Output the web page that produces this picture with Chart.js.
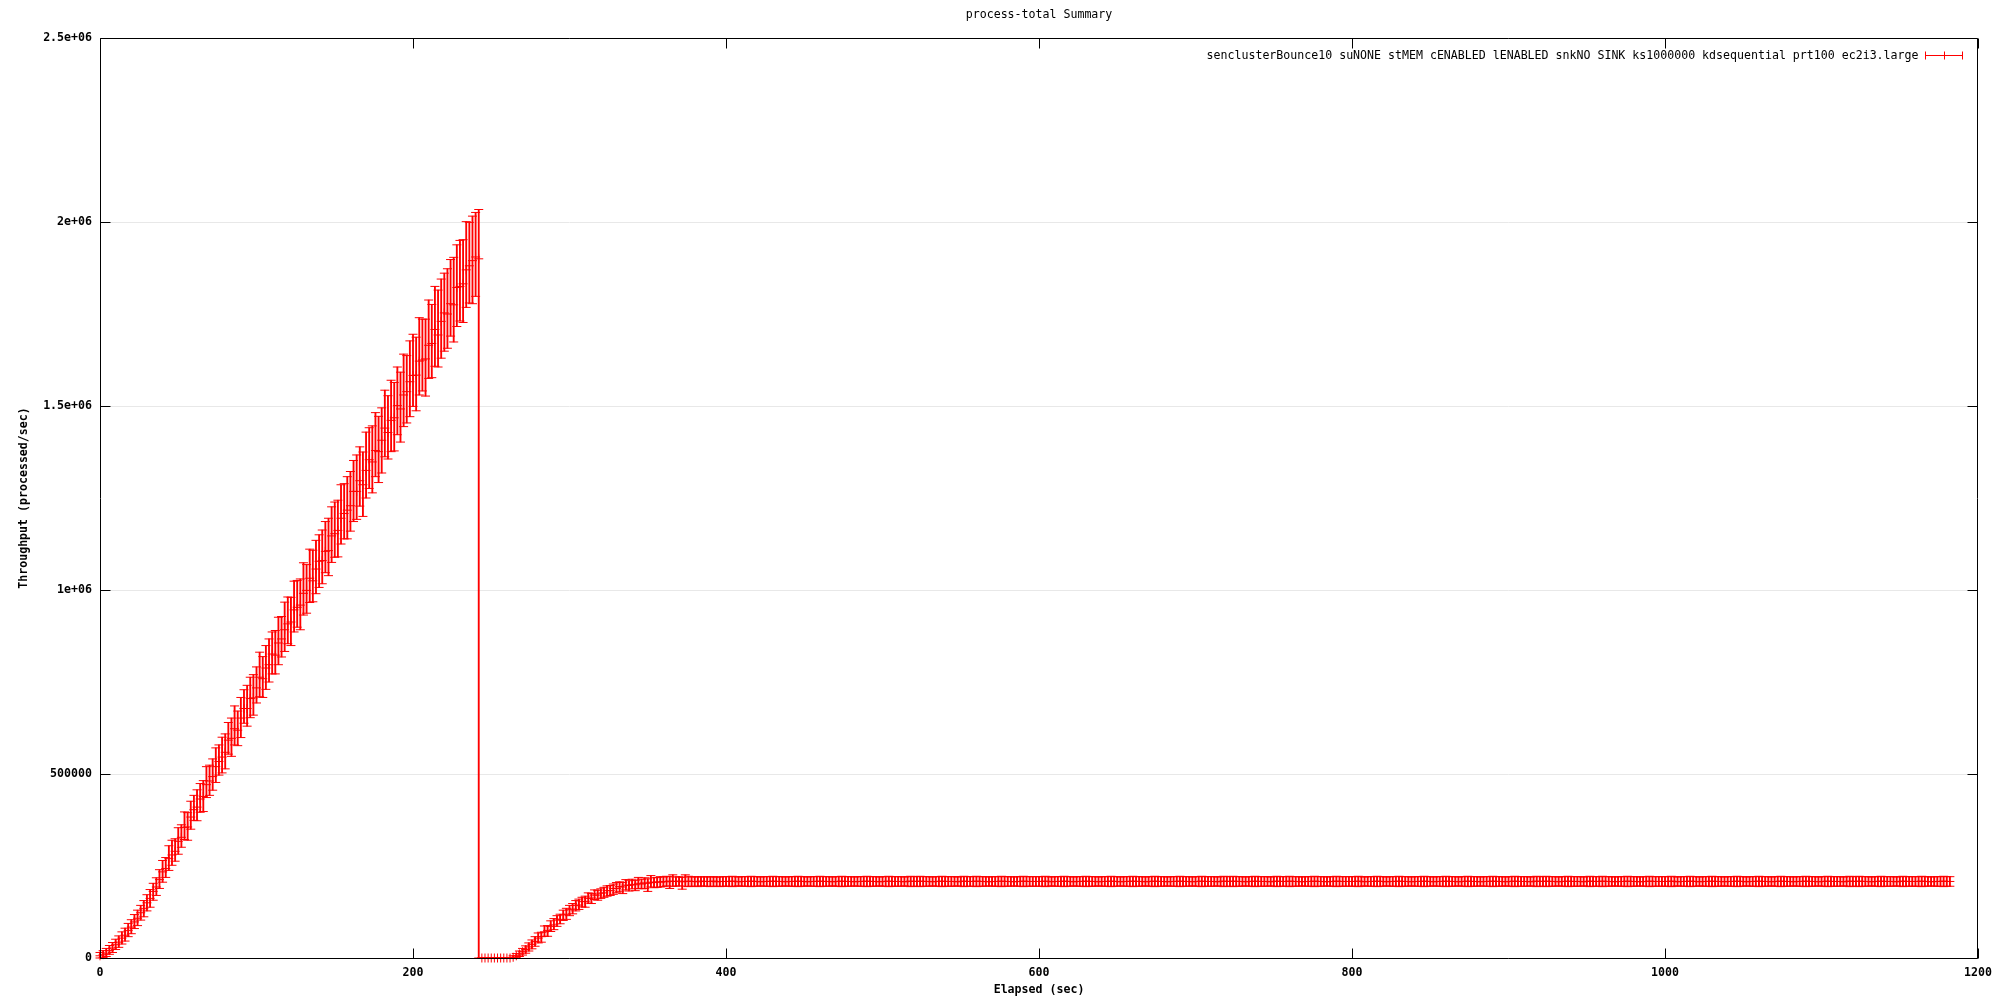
<!DOCTYPE html>
<html>
<head>
<meta charset="utf-8">
<script src="https://cdn.jsdelivr.net/npm/chart.js@4/dist/chart.umd.min.js"></script>
<style>
  html, body { margin: 0; background: #fff; }
  #wrap { width: 2000px; height: 1000px; }
</style>
</head>
<body>
<div id="wrap"><canvas id="chart" width="2000" height="1000"></canvas></div>
<script>
const chartTitle = 'process-total Summary';
const seriesName = 'senclusterBounce10 suNONE stMEM cENABLED lENABLED snkNO SINK ks1000000 kdsequential prt100 ec2i3.large';
const xTitle = 'Elapsed (sec)';
const yTitle = 'Throughput (processed/sec)';
const xTicks = [0, 200, 400, 600, 800, 1000, 1200];
const yTicks = [0, 500000, 1000000, 1500000, 2000000, 2500000];
const yTickLabels = ['0', '500000', '1e+06', '1.5e+06', '2e+06', '2.5e+06'];

// one sample every 2 sec, 20 samples per row
const elapsed = [
  0,2,4,6,8,10,12,14,16,18,20,22,24,26,28,30,32,34,36,38,
  40,42,44,46,48,50,52,54,56,58,60,62,64,66,68,70,72,74,76,78,
  80,82,84,86,88,90,92,94,96,98,100,102,104,106,108,110,112,114,116,118,
  120,122,124,126,128,130,132,134,136,138,140,142,144,146,148,150,152,154,156,158,
  160,162,164,166,168,170,172,174,176,178,180,182,184,186,188,190,192,194,196,198,
  200,202,204,206,208,210,212,214,216,218,220,222,224,226,228,230,232,234,236,238,
  240,242,244,246,248,250,252,254,256,258,260,262,264,266,268,270,272,274,276,278,
  280,282,284,286,288,290,292,294,296,298,300,302,304,306,308,310,312,314,316,318,
  320,322,324,326,328,330,332,334,336,338,340,342,344,346,348,350,352,354,356,358,
  360,362,364,366,368,370,372,374,376,378,380,382,384,386,388,390,392,394,396,398,
  400,402,404,406,408,410,412,414,416,418,420,422,424,426,428,430,432,434,436,438,
  440,442,444,446,448,450,452,454,456,458,460,462,464,466,468,470,472,474,476,478,
  480,482,484,486,488,490,492,494,496,498,500,502,504,506,508,510,512,514,516,518,
  520,522,524,526,528,530,532,534,536,538,540,542,544,546,548,550,552,554,556,558,
  560,562,564,566,568,570,572,574,576,578,580,582,584,586,588,590,592,594,596,598,
  600,602,604,606,608,610,612,614,616,618,620,622,624,626,628,630,632,634,636,638,
  640,642,644,646,648,650,652,654,656,658,660,662,664,666,668,670,672,674,676,678,
  680,682,684,686,688,690,692,694,696,698,700,702,704,706,708,710,712,714,716,718,
  720,722,724,726,728,730,732,734,736,738,740,742,744,746,748,750,752,754,756,758,
  760,762,764,766,768,770,772,774,776,778,780,782,784,786,788,790,792,794,796,798,
  800,802,804,806,808,810,812,814,816,818,820,822,824,826,828,830,832,834,836,838,
  840,842,844,846,848,850,852,854,856,858,860,862,864,866,868,870,872,874,876,878,
  880,882,884,886,888,890,892,894,896,898,900,902,904,906,908,910,912,914,916,918,
  920,922,924,926,928,930,932,934,936,938,940,942,944,946,948,950,952,954,956,958,
  960,962,964,966,968,970,972,974,976,978,980,982,984,986,988,990,992,994,996,998,
  1000,1002,1004,1006,1008,1010,1012,1014,1016,1018,1020,1022,1024,1026,1028,1030,1032,1034,1036,1038,
  1040,1042,1044,1046,1048,1050,1052,1054,1056,1058,1060,1062,1064,1066,1068,1070,1072,1074,1076,1078,
  1080,1082,1084,1086,1088,1090,1092,1094,1096,1098,1100,1102,1104,1106,1108,1110,1112,1114,1116,1118,
  1120,1122,1124,1126,1128,1130,1132,1134,1136,1138,1140,1142,1144,1146,1148,1150,1152,1154,1156,1158,
  1160,1162,1164,1166,1168,1170,1172,1174,1176,1178,1180,1182
];

const throughput = [
  6000,9000,13000,20000,27000,36000,43000,54000,62000,75000,84000,98000,108000,123000,134000,150000,162000,181000,193000,213000,
  234000,243000,270000,280000,290000,317000,328000,355000,356000,383000,403000,410000,432000,439000,471000,481000,493000,520000,534000,546000,
  559000,592000,597000,623000,619000,652000,678000,678000,705000,707000,734000,763000,759000,788000,797000,826000,823000,856000,867000,892000,
  908000,913000,946000,953000,959000,991000,999000,1032000,1025000,1057000,1078000,1080000,1105000,1107000,1147000,1153000,1162000,1195000,1208000,1217000,
  1229000,1268000,1268000,1297000,1286000,1325000,1354000,1348000,1379000,1376000,1407000,1440000,1428000,1461000,1468000,1501000,1492000,1530000,1539000,1566000,
  1583000,1584000,1622000,1625000,1628000,1665000,1670000,1708000,1693000,1730000,1753000,1750000,1778000,1775000,1822000,1825000,1832000,1870000,1881000,1895000,
  1905000,1900000,0,0,0,0,0,0,0,0,0,0,2000,6000,11000,17000,23000,30000,37000,45000,
  54000,58000,71000,75000,86000,90000,103000,105000,117000,119000,131000,133000,143000,144000,153000,154000,162000,163000,171000,171000,
  176000,177000,183000,183000,189000,189000,194000,193000,198000,197000,200000,199000,203000,201000,204000,203000,206000,205000,207000,206000,
  208000,207000,209000,208000,208000,209000,207000,208000,209000,208000,208000,207000,209000,208000,208000,208000,209000,207000,208000,208000,
  /* 400 */ 208000,208000,209000,208000,207000,208000,208000,208000,209000,208000,208000,207000,208000,208000,208000,209000,208000,208000,208000,207000,
  /* 440 */ 208000,208000,208000,209000,208000,208000,207000,208000,208000,208000,209000,208000,208000,208000,207000,208000,208000,209000,208000,208000,
  /* 480 */ 208000,207000,208000,208000,208000,209000,208000,208000,208000,207000,208000,208000,209000,208000,208000,208000,208000,207000,208000,209000,
  /* 520 */ 208000,208000,209000,208000,208000,208000,207000,208000,208000,209000,208000,208000,208000,208000,207000,208000,209000,208000,208000,208000,
  /* 560 */ 209000,208000,208000,208000,207000,208000,208000,208000,209000,208000,208000,208000,207000,208000,208000,209000,208000,208000,208000,208000,
  /* 600 */ 208000,208000,209000,208000,207000,208000,208000,208000,209000,208000,208000,207000,208000,208000,208000,209000,208000,208000,208000,207000,
  /* 640 */ 208000,208000,208000,209000,208000,208000,207000,208000,208000,208000,209000,208000,208000,208000,207000,208000,208000,209000,208000,208000,
  /* 680 */ 208000,207000,208000,208000,208000,209000,208000,208000,208000,207000,208000,208000,209000,208000,208000,208000,208000,207000,208000,209000,
  /* 720 */ 208000,208000,209000,208000,208000,208000,207000,208000,208000,209000,208000,208000,208000,208000,207000,208000,209000,208000,208000,208000,
  /* 760 */ 209000,208000,208000,208000,207000,208000,208000,208000,209000,208000,208000,208000,207000,208000,208000,209000,208000,208000,208000,208000,
  /* 800 */ 208000,208000,209000,208000,207000,208000,208000,208000,209000,208000,208000,207000,208000,208000,208000,209000,208000,208000,208000,207000,
  /* 840 */ 208000,208000,208000,209000,208000,208000,207000,208000,208000,208000,209000,208000,208000,208000,207000,208000,208000,209000,208000,208000,
  /* 880 */ 208000,207000,208000,208000,208000,209000,208000,208000,208000,207000,208000,208000,209000,208000,208000,208000,208000,207000,208000,209000,
  /* 920 */ 208000,208000,209000,208000,208000,208000,207000,208000,208000,209000,208000,208000,208000,208000,207000,208000,209000,208000,208000,208000,
  /* 960 */ 209000,208000,208000,208000,207000,208000,208000,208000,209000,208000,208000,208000,207000,208000,208000,209000,208000,208000,208000,208000,
  /* 1000 */ 208000,208000,209000,208000,207000,208000,208000,208000,209000,208000,208000,207000,208000,208000,208000,209000,208000,208000,208000,207000,
  /* 1040 */ 208000,208000,208000,209000,208000,208000,207000,208000,208000,208000,209000,208000,208000,208000,207000,208000,208000,209000,208000,208000,
  /* 1080 */ 208000,207000,208000,208000,208000,209000,208000,208000,208000,207000,208000,208000,209000,208000,208000,208000,208000,207000,208000,209000,
  /* 1120 */ 208000,208000,209000,208000,208000,208000,207000,208000,208000,209000,208000,208000,208000,208000,207000,208000,209000,208000,208000,208000,
  /* 1160 */ 208000,208000,209000,208000,208000,207000,208000,208000,208000,209000,208000,208000
];

const throughputLow = [
  0,1000,4000,10000,15000,23000,29000,38000,46000,58000,66000,80000,88000,103000,112000,128000,138000,157000,170000,189000,
  206000,219000,238000,252000,263000,282000,301000,322000,320000,350000,374000,373000,396000,398000,436000,442000,456000,477000,497000,503000,
  514000,554000,548000,579000,577000,599000,638000,630000,653000,660000,693000,710000,708000,730000,750000,772000,772000,797000,818000,833000,
  854000,849000,886000,899000,892000,932000,937000,966000,968000,990000,1007000,1017000,1047000,1039000,1075000,1089000,1090000,1125000,1139000,1139000,
  1160000,1186000,1192000,1228000,1200000,1250000,1276000,1264000,1308000,1292000,1318000,1362000,1356000,1376000,1378000,1422000,1402000,1444000,1454000,1471000,
  1499000,1487000,1530000,1541000,1527000,1575000,1577000,1608000,1606000,1630000,1649000,1657000,1690000,1674000,1716000,1731000,1727000,1768000,1780000,1778000,
  1798000,0,0,0,0,0,0,0,0,0,0,0,0,1000,4000,8000,13000,19000,25000,32000,
  41000,43000,59000,59000,72000,77000,86000,93000,102000,105000,115000,120000,128000,132000,139000,138000,149000,148000,159000,157000,
  162000,165000,168000,170000,173000,177000,180000,175000,185000,182000,188000,183000,189000,188000,189000,181000,193000,191000,192000,193000,
  194000,196000,189000,195000,195000,196000,187000,195000,194000,195000,195000,194000,196000,195000,195000,194000,195000,195000,194000,195000,
  /* 400 */ 195000,195000,194000,195000,196000,195000,195000,195000,194000,195000,195000,196000,195000,195000,195000,194000,195000,195000,195000,196000,
  /* 440 */ 195000,195000,195000,194000,195000,195000,196000,195000,195000,195000,194000,195000,195000,195000,196000,195000,195000,194000,195000,195000,
  /* 480 */ 195000,196000,195000,195000,195000,194000,195000,195000,195000,196000,195000,195000,194000,195000,195000,195000,195000,196000,195000,194000,
  /* 520 */ 195000,195000,194000,195000,195000,195000,196000,195000,195000,194000,195000,195000,195000,195000,196000,195000,194000,195000,195000,195000,
  /* 560 */ 194000,195000,195000,195000,196000,195000,195000,195000,194000,195000,195000,195000,196000,195000,195000,194000,195000,195000,195000,195000,
  /* 600 */ 195000,195000,194000,195000,196000,195000,195000,195000,194000,195000,195000,196000,195000,195000,195000,194000,195000,195000,195000,196000,
  /* 640 */ 195000,195000,195000,194000,195000,195000,196000,195000,195000,195000,194000,195000,195000,195000,196000,195000,195000,194000,195000,195000,
  /* 680 */ 195000,196000,195000,195000,195000,194000,195000,195000,195000,196000,195000,195000,194000,195000,195000,195000,195000,196000,195000,194000,
  /* 720 */ 195000,195000,194000,195000,195000,195000,196000,195000,195000,194000,195000,195000,195000,195000,196000,195000,194000,195000,195000,195000,
  /* 760 */ 194000,195000,195000,195000,196000,195000,195000,195000,194000,195000,195000,195000,196000,195000,195000,194000,195000,195000,195000,195000,
  /* 800 */ 195000,195000,194000,195000,196000,195000,195000,195000,194000,195000,195000,196000,195000,195000,195000,194000,195000,195000,195000,196000,
  /* 840 */ 195000,195000,195000,194000,195000,195000,196000,195000,195000,195000,194000,195000,195000,195000,196000,195000,195000,194000,195000,195000,
  /* 880 */ 195000,196000,195000,195000,195000,194000,195000,195000,195000,196000,195000,195000,194000,195000,195000,195000,195000,196000,195000,194000,
  /* 920 */ 195000,195000,194000,195000,195000,195000,196000,195000,195000,194000,195000,195000,195000,195000,196000,195000,194000,195000,195000,195000,
  /* 960 */ 194000,195000,195000,195000,196000,195000,195000,195000,194000,195000,195000,195000,196000,195000,195000,194000,195000,195000,195000,195000,
  /* 1000 */ 195000,195000,194000,195000,196000,195000,195000,195000,194000,195000,195000,196000,195000,195000,195000,194000,195000,195000,195000,196000,
  /* 1040 */ 195000,195000,195000,194000,195000,195000,196000,195000,195000,195000,194000,195000,195000,195000,196000,195000,195000,194000,195000,195000,
  /* 1080 */ 195000,196000,195000,195000,195000,194000,195000,195000,195000,196000,195000,195000,194000,195000,195000,195000,195000,196000,195000,194000,
  /* 1120 */ 195000,195000,194000,195000,195000,195000,196000,195000,195000,194000,195000,195000,195000,195000,196000,195000,194000,195000,195000,195000,
  /* 1160 */ 195000,195000,194000,195000,195000,196000,195000,195000,195000,194000,195000,195000
];

const throughputHigh = [
  15000,20000,26000,34000,42000,51000,60000,71000,81000,94000,104000,118000,130000,143000,156000,172000,186000,203000,218000,240000,
  265000,273000,305000,320000,324000,354000,362000,397000,395000,426000,442000,457000,474000,482000,520000,524000,541000,571000,579000,600000,
  609000,640000,652000,685000,671000,708000,729000,741000,763000,770000,791000,831000,819000,849000,867000,886000,890000,926000,928000,967000,
  981000,980000,1024000,1026000,1030000,1074000,1069000,1111000,1108000,1135000,1150000,1163000,1186000,1195000,1226000,1239000,1244000,1286000,1289000,1308000,
  1322000,1352000,1367000,1389000,1375000,1429000,1441000,1446000,1482000,1472000,1495000,1543000,1528000,1570000,1564000,1606000,1592000,1641000,1637000,1677000,
  1695000,1687000,1740000,1736000,1736000,1788000,1776000,1825000,1815000,1845000,1861000,1873000,1898000,1904000,1938000,1950000,1952000,2001000,1999000,2016000,
  2026000,2034000,0,0,0,0,0,0,0,0,0,0,6000,12000,19000,26000,33000,41000,49000,58000,
  68000,70000,87000,88000,101000,107000,115000,119000,130000,135000,143000,148000,156000,160000,165000,168000,177000,175000,185000,184000,
  188000,192000,196000,197000,201000,205000,207000,205000,213000,210000,214000,211000,219000,214000,218000,215000,224000,218000,219000,221000,
  220000,222000,221000,226000,220000,221000,219000,226000,222000,220000,221000,220000,221000,220000,221000,220000,221000,220000,220000,221000,
  /* 400 */ 221000,221000,222000,221000,220000,221000,221000,221000,222000,221000,221000,220000,221000,221000,221000,222000,221000,221000,221000,220000,
  /* 440 */ 221000,221000,221000,222000,221000,221000,220000,221000,221000,221000,222000,221000,221000,221000,220000,221000,221000,222000,221000,221000,
  /* 480 */ 221000,220000,221000,221000,221000,222000,221000,221000,221000,220000,221000,221000,222000,221000,221000,221000,221000,220000,221000,222000,
  /* 520 */ 221000,221000,222000,221000,221000,221000,220000,221000,221000,222000,221000,221000,221000,221000,220000,221000,222000,221000,221000,221000,
  /* 560 */ 222000,221000,221000,221000,220000,221000,221000,221000,222000,221000,221000,221000,220000,221000,221000,222000,221000,221000,221000,221000,
  /* 600 */ 221000,221000,222000,221000,220000,221000,221000,221000,222000,221000,221000,220000,221000,221000,221000,222000,221000,221000,221000,220000,
  /* 640 */ 221000,221000,221000,222000,221000,221000,220000,221000,221000,221000,222000,221000,221000,221000,220000,221000,221000,222000,221000,221000,
  /* 680 */ 221000,220000,221000,221000,221000,222000,221000,221000,221000,220000,221000,221000,222000,221000,221000,221000,221000,220000,221000,222000,
  /* 720 */ 221000,221000,222000,221000,221000,221000,220000,221000,221000,222000,221000,221000,221000,221000,220000,221000,222000,221000,221000,221000,
  /* 760 */ 222000,221000,221000,221000,220000,221000,221000,221000,222000,221000,221000,221000,220000,221000,221000,222000,221000,221000,221000,221000,
  /* 800 */ 221000,221000,222000,221000,220000,221000,221000,221000,222000,221000,221000,220000,221000,221000,221000,222000,221000,221000,221000,220000,
  /* 840 */ 221000,221000,221000,222000,221000,221000,220000,221000,221000,221000,222000,221000,221000,221000,220000,221000,221000,222000,221000,221000,
  /* 880 */ 221000,220000,221000,221000,221000,222000,221000,221000,221000,220000,221000,221000,222000,221000,221000,221000,221000,220000,221000,222000,
  /* 920 */ 221000,221000,222000,221000,221000,221000,220000,221000,221000,222000,221000,221000,221000,221000,220000,221000,222000,221000,221000,221000,
  /* 960 */ 222000,221000,221000,221000,220000,221000,221000,221000,222000,221000,221000,221000,220000,221000,221000,222000,221000,221000,221000,221000,
  /* 1000 */ 221000,221000,222000,221000,220000,221000,221000,221000,222000,221000,221000,220000,221000,221000,221000,222000,221000,221000,221000,220000,
  /* 1040 */ 221000,221000,221000,222000,221000,221000,220000,221000,221000,221000,222000,221000,221000,221000,220000,221000,221000,222000,221000,221000,
  /* 1080 */ 221000,220000,221000,221000,221000,222000,221000,221000,221000,220000,221000,221000,222000,221000,221000,221000,221000,220000,221000,222000,
  /* 1120 */ 221000,221000,222000,221000,221000,221000,220000,221000,221000,222000,221000,221000,221000,221000,220000,221000,222000,221000,221000,221000,
  /* 1160 */ 221000,221000,222000,221000,221000,220000,221000,221000,221000,222000,221000,221000
];

const RED = '#ff0000';
const FONT = '"DejaVu Sans Mono", "Liberation Mono", monospace';
Chart.defaults.font.family = FONT;
Chart.defaults.color = '#000';

const pts = arr => elapsed.map((t, i) => ({ x: t, y: arr[i] }));

// gnuplot-like border, inward ticks and key
const gnuFrame = {
  id: 'gnuFrame',
  afterDatasetsDraw(chart) {
    const { ctx, chartArea: a, scales: { x, y } } = chart;
    const L = Math.round(a.left) + 0.5, R = Math.round(a.right) - 0.5;
    const T = Math.round(a.top) + 0.5, B = Math.round(a.bottom) + 0.5;
    ctx.save();
    ctx.strokeStyle = '#000';
    ctx.lineWidth = 1;
    ctx.beginPath();
    xTicks.forEach(v => {
      const px = Math.round(x.getPixelForValue(v)) + 0.5;
      ctx.moveTo(px, B); ctx.lineTo(px, B - 10);
      ctx.moveTo(px, T); ctx.lineTo(px, T + 10);
    });
    yTicks.forEach(v => {
      const py = Math.round(y.getPixelForValue(v)) + 0.5;
      ctx.moveTo(L, py); ctx.lineTo(L + 10, py);
      ctx.moveTo(R, py); ctx.lineTo(R - 10, py);
    });
    ctx.rect(L, T, R - L, B - T);
    ctx.stroke();

    // key, top right inside the plot
    const ly = Math.round(a.top + 17) + 0.5;
    const s2 = Math.round(a.right - 16) + 0.5, s1 = s2 - 37;
    const mid = Math.round((s1 + s2) / 2) + 0.5;
    ctx.font = '11.6px ' + FONT;
    ctx.fillStyle = '#000';
    ctx.textAlign = 'right';
    ctx.textBaseline = 'middle';
    ctx.fillText(chart.data.datasets[1].label, s1 - 7, ly);
    ctx.strokeStyle = RED;
    ctx.beginPath();
    ctx.moveTo(s1, ly); ctx.lineTo(s2, ly);
    ctx.moveTo(s1, ly - 4); ctx.lineTo(s1, ly + 4);
    ctx.moveTo(s2, ly - 4); ctx.lineTo(s2, ly + 4);
    ctx.moveTo(mid, ly - 4); ctx.lineTo(mid, ly + 4);
    ctx.stroke();
    ctx.restore();
  }
};

const capStyle = {
  type: 'scatter', showLine: false, pointStyle: 'line', pointRadius: 4.5,
  pointBorderColor: RED, pointBackgroundColor: RED, pointBorderWidth: 1, clip: false
};

new Chart(document.getElementById('chart'), {
  type: 'scatter',
  data: {
    datasets: [
      {
        type: 'bar', label: 'range',
        data: elapsed.map((t, i) => ({ x: t, y: [throughputLow[i], throughputHigh[i]] })),
        backgroundColor: RED, borderWidth: 0, barThickness: 1.2, grouped: false, clip: false
      },
      {
        type: 'scatter', label: seriesName, data: pts(throughput), showLine: false,
        pointStyle: 'cross', pointRadius: 4.5, pointBorderColor: RED, pointBackgroundColor: RED,
        pointBorderWidth: 1, clip: false
      },
      Object.assign({ label: 'low', data: pts(throughputLow) }, capStyle),
      Object.assign({ label: 'high', data: pts(throughputHigh) }, capStyle)
    ]
  },
  options: {
    responsive: false,
    animation: false,
    events: [],
    devicePixelRatio: 1,
    layout: { padding: { left: 0, right: 17, top: 0, bottom: 0 } },
    plugins: {
      legend: { display: false },
      tooltip: { enabled: false },
      title: {
        display: true, text: chartTitle, color: '#000', fullSize: false,
        font: { size: 11.6, weight: 'normal' },
        padding: { top: 8, bottom: 16.1 }
      }
    },
    scales: {
      x: {
        type: 'linear', min: 0, max: 1200, offset: false,
        afterBuildTicks: s => { s.ticks = xTicks.map(v => ({ value: v })); },
        afterFit: s => { s.height = 42; },
        ticks: { font: { size: 11.6, weight: 'bold' }, padding: 8, maxRotation: 0, callback: v => String(v) },
        grid: { display: false, drawTicks: false, offset: false },
        border: { display: false },
        title: { display: true, text: xTitle, font: { size: 11.6, weight: 'bold' }, padding: { top: 0, bottom: 3 } }
      },
      y: {
        type: 'linear', min: 0, max: 2500000,
        afterBuildTicks: s => { s.ticks = yTicks.map(v => ({ value: v })); },
        afterFit: s => { s.width = 100; },
        ticks: { font: { size: 11.6, weight: 'bold' }, padding: 8, callback: v => yTickLabels[yTicks.indexOf(v)] },
        grid: { color: '#e8e8e8', drawTicks: false },
        border: { display: false },
        title: { display: true, text: yTitle, font: { size: 11.6, weight: 'bold' }, padding: { top: 17, bottom: 0 } }
      }
    }
  },
  plugins: [gnuFrame]
});
</script>
</body>
</html>
